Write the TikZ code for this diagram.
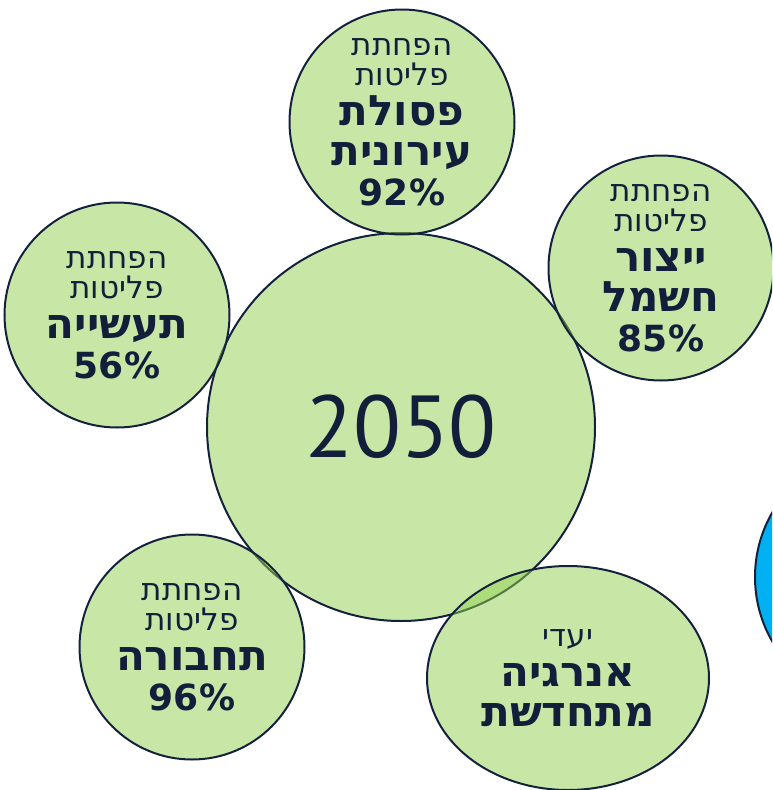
\documentclass[tikz,border=0pt]{standalone}
\usepackage{fontspec}
\setmainfont{DejaVu Sans}
\newfontfamily\heb[Script=Hebrew]{DejaVu Sans}
\newfontfamily\yearfont{PT Sans}
\TeXXeTstate=1
\usetikzlibrary{shapes.geometric}
\definecolor{navy}{HTML}{14213D}
\definecolor{ink}{HTML}{131E3A}
\definecolor{leaf}{HTML}{92D050}
\definecolor{sky}{HTML}{00B0F0}
\newcommand{\rg}[1]{{\fontsize{31}{30}\selectfont\heb\beginR #1\endR}}
\newcommand{\bd}[1]{{\fontsize{42}{40}\selectfont\heb\bfseries\beginR #1\endR}}
\newcommand{\pc}[1]{{\fontsize{36}{40}\selectfont\bfseries #1}}
\tikzset{
  bubble/.style={circle, draw=navy, line width=2pt, fill=leaf, fill opacity=0.5,
    text opacity=1, text=ink, inner sep=0pt, minimum size=225pt, align=center,
    font=\fontsize{32}{40}\selectfont},
}
\begin{document}
\begin{tikzpicture}[x=1pt,y=-1pt]
\useasboundingbox (0,0) rectangle (772,790);
\clip (0,0) rectangle (772,790);
% central
\node[bubble, minimum size=388pt, font=\yearfont\fontsize{88}{100}\selectfont] (core) at (401,427) {2050};
% satellites
\node[bubble] (waste) at (402,122) {\rg{הפחתת}\\[-10pt]\rg{פליטות}\\\bd{פסולת}\\\bd{עירונית}\\\pc{92\%}};
\node[bubble] (power) at (661,268) {\rg{הפחתת}\\[-10pt]\rg{פליטות}\\\bd{ייצור}\\\bd{חשמל}\\\pc{85\%}};
\node[bubble] (industry) at (117,315) {\rg{הפחתת}\\[-10pt]\rg{פליטות}\\\bd{תעשייה}\\\pc{56\%}};
\node[bubble] (transport) at (192,647) {\rg{הפחתת}\\[-10pt]\rg{פליטות}\\\bd{תחבורה}\\\pc{96\%}};
\node[bubble, ellipse, minimum width=282pt, minimum height=224pt] (renew) at (568,678) {\rg{יעדי}\\\bd{אנרגיה}\\\bd{מתחדשת}};
% blue partial circle at right edge
\node[circle, draw=navy, line width=2pt, fill=sky, inner sep=0pt, minimum size=258pt] (blue) at (884,577) {};
\end{tikzpicture}
\end{document}
